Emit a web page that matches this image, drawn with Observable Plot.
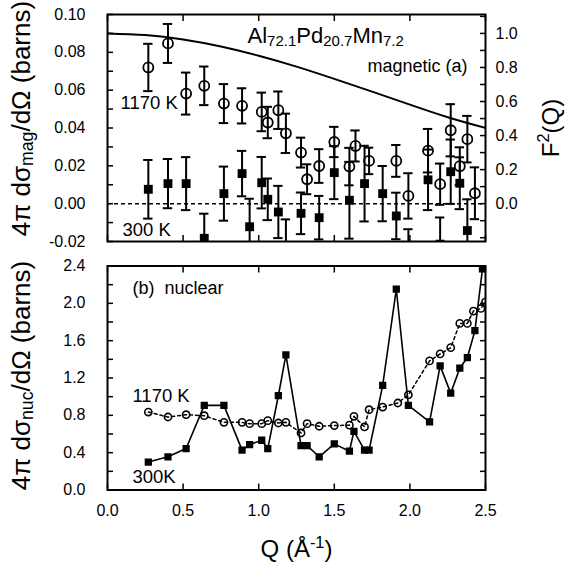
<!DOCTYPE html>
<html><head><meta charset="utf-8">
<script src="https://cdn.jsdelivr.net/npm/d3@7"></script>
<script src="https://cdn.jsdelivr.net/npm/@observablehq/plot@0.6"></script>
<style>body{margin:0;background:#fff} #chart{width:573px;height:565px;background:#fff} #chart svg{display:block}</style>
</head><body><div id="chart"></div>
<script>
// ---- Data ----
// (a) magnetic cross-section, 1170 K (open circles)
const magQ1170 = [0.27,0.40,0.52,0.64,0.77,0.89,1.02,1.06,1.13,1.18,1.28,1.32,1.40,1.50,1.60,1.64,1.73,1.91,1.99,2.12,2.20,2.27,2.33,2.38,2.43];
const magV1170 = [0.0720,0.0847,0.0582,0.0623,0.0529,0.0517,0.0485,0.0429,0.0494,0.0372,0.0270,0.0129,0.0199,0.0326,0.0196,0.0305,0.0226,0.0226,0.0041,0.0280,0.0103,0.0388,0.0198,0.0341,0.0055];
const magE1170 = [0.0125,0.0103,0.0111,0.0102,0.0103,0.0093,0.0102,0.0083,0.0099,0.0104,0.0079,0.0079,0.0089,0.0080,0.0099,0.0082,0.0070,0.0084,0.0120,0.0115,0.0109,0.0138,0.0100,0.0123,0.0137];
// (a) magnetic cross-section, 300 K (filled squares)
const magQ300 = [0.27,0.40,0.52,0.64,0.77,0.89,0.94,1.02,1.06,1.13,1.18,1.28,1.40,1.50,1.60,1.70,1.82,1.91,1.99,2.12,2.20,2.27,2.33,2.38];
const magV300 = [0.0076,0.0106,0.0106,-0.0183,0.0053,0.0159,-0.0122,0.0111,0.0023,-0.0044,-0.0250,-0.0051,-0.0074,0.0164,0.0018,0.0106,0.0053,-0.0065,-0.0270,0.0126,-0.0214,0.0169,0.0108,-0.0142];
const magE300 = [0.0155,0.0130,0.0140,0.0130,0.0143,0.0120,0.0148,0.0136,0.0110,0.0138,0.0167,0.0110,0.0115,0.0140,0.0203,0.0200,0.0146,0.0123,0.0135,0.0160,0.0141,0.0170,0.0137,0.0165];
// magnetic form factor squared F^2(Q) (solid curve, right axis)
const f2Q = [0,0.25,0.5,0.75,1.0,1.25,1.5,1.75,2.0,2.25,2.5];
const f2V = [1.0,0.990,0.964,0.923,0.869,0.805,0.733,0.658,0.582,0.508,0.445];
// (b) nuclear cross-section, 1170 K (open circles, dotted line)
const nucQ1170 = [0.27,0.40,0.52,0.64,0.77,0.89,0.94,1.02,1.06,1.13,1.18,1.28,1.32,1.40,1.50,1.60,1.63,1.70,1.73,1.82,1.92,1.99,2.13,2.20,2.27,2.33,2.38,2.42,2.47,2.50];
const nucV1170 = [0.835,0.782,0.807,0.796,0.725,0.725,0.711,0.711,0.743,0.718,0.725,0.611,0.711,0.683,0.690,0.695,0.789,0.676,0.860,0.889,0.932,1.020,1.383,1.458,1.525,1.785,1.785,1.917,1.945,2.016];
// (b) nuclear cross-section, 300 K (filled squares, solid line)
const nucQ300 = [0.27,0.40,0.52,0.64,0.77,0.89,0.94,1.02,1.06,1.13,1.18,1.28,1.32,1.40,1.50,1.60,1.63,1.70,1.73,1.82,1.91,1.99,2.13,2.20,2.27,2.33,2.38,2.43,2.48];
const nucV300 = [0.299,0.356,0.444,0.907,0.907,0.427,0.487,0.533,0.444,1.010,1.447,0.476,0.476,0.356,0.494,0.416,0.629,0.427,0.427,1.120,2.151,0.907,0.729,1.330,1.038,1.305,1.419,1.707,2.370];
// ticks
const qTicks = [0,0.5,1.0,1.5,2.0,2.5];
const magTickLabels = [-0.02,0.00,0.02,0.04,0.06,0.08,0.10];
const magMinorTicks = [-0.02,-0.01,0,0.01,0.02,0.03,0.04,0.05,0.06,0.07,0.08,0.09,0.10];
const f2TickLabels = [0.0,0.2,0.4,0.6,0.8,1.0];
const f2MinorTicks = [-0.2,-0.1,0,0.1,0.2,0.3,0.4,0.5,0.6,0.7,0.8,0.9,1.0,1.1];
const nucTickLabels = [0,0.4,0.8,1.2,1.6,2.0,2.4];
const nucMinorTicks = [0,0.2,0.4,0.6,0.8,1.0,1.2,1.4,1.6,1.8,2.0,2.2,2.4];
const F2SCALE = 0.09; // F^2 = 1 corresponds to 0.09 barns on the left axis

// ---- Build tables ----
const mag1170 = magQ1170.map((q,i)=>({q, v:magV1170[i], e:magE1170[i]}));
const mag300 = magQ300.map((q,i)=>({q, v:magV300[i], e:magE300[i]}));
const f2 = f2Q.map((q,i)=>({q, f:f2V[i]}));
const nuc1170 = nucQ1170.map((q,i)=>({q, v:nucV1170[i]}));
const nuc300 = nucQ300.map((q,i)=>({q, v:nucV300[i]}));

const FONT = '"Liberation Sans", Arial, Helvetica, sans-serif';
const CAP = 0.031;
const style = {fontFamily: FONT, fontSize: "16px", color: "black", background: "white", overflow: "visible"};

function errBars(data) {
  return [
    Plot.ruleX(data, {x:"q", y1:d=>d.v-d.e, y2:d=>d.v+d.e, stroke:"black", strokeWidth:2, clip:true}),
    Plot.ruleY(data, {y:d=>d.v+d.e, x1:d=>d.q-CAP, x2:d=>d.q+CAP, stroke:"black", strokeWidth:2, clip:true}),
    Plot.ruleY(data, {y:d=>d.v-d.e, x1:d=>d.q-CAP, x2:d=>d.q+CAP, stroke:"black", strokeWidth:2, clip:true})
  ];
}
const noText = () => "";
function frameTicks(yMinor) {
  return [
    Plot.axisY(yMinor, {anchor:"left", tickSize:6, dx:6, tickFormat:noText, label:null, strokeWidth:1.5}),
    Plot.axisX(qTicks, {anchor:"top", tickSize:6, dy:6, tickFormat:noText, label:null, strokeWidth:1.5}),
    Plot.axisX(qTicks, {anchor:"bottom", tickSize:6, dy:-6, tickFormat:noText, label:null, strokeWidth:1.5})
  ];
}

const topPlot = Plot.plot({
  width:573, height:250, marginLeft:107, marginRight:88, marginTop:14, marginBottom:9,
  style,
  x:{domain:[0,2.5], label:null},
  y:{domain:[-0.02,0.10], label:null},
  marks:[
    Plot.ruleY([0], {stroke:"black", strokeDasharray:"4,3", strokeWidth:1.5}),
    Plot.line(f2, {x:"q", y:d=>d.f*F2SCALE, curve:"natural", stroke:"black", strokeWidth:2, clip:true}),
    ...errBars(mag300),
    ...errBars(mag1170),
    Plot.dot(mag300, {x:"q", y:"v", symbol:"square", r:5, fill:"black", stroke:"none", clip:true}),
    Plot.dot(mag1170, {x:"q", y:"v", r:5, fill:"none", stroke:"black", strokeWidth:1.8, clip:true}),
    ...frameTicks(magMinorTicks),
    Plot.axisY(f2MinorTicks.map(f=>f*F2SCALE), {anchor:"right", tickSize:6, dx:-6, tickFormat:noText, label:null, strokeWidth:1.5}),
    Plot.axisY(magTickLabels, {anchor:"left", tickSize:0, tickPadding:22, tickFormat:v=>v.toFixed(2), label:null, fontSize:16}),
    Plot.axisY(f2TickLabels.map(f=>f*F2SCALE), {anchor:"right", tickSize:0, tickPadding:10, tickFormat:v=>(v/F2SCALE).toFixed(1), label:null, fontSize:16}),
    Plot.frame({stroke:"black", strokeWidth:2}),
    Plot.text(["Al_{72.1}Pd_{20.7}Mn_{7.2}"], {x:0.926, y:0.0847, text:d=>d, textAnchor:"start", lineAnchor:"bottom", fontSize:22}),
    Plot.text(["magnetic (a)"], {x:2.381, y:0.0695, text:d=>d, textAnchor:"end", lineAnchor:"bottom", fontSize:18}),
    Plot.text(["1170 K"], {x:0.086, y:0.0498, text:d=>d, textAnchor:"start", lineAnchor:"bottom", fontSize:18.5}),
    Plot.text(["300 K"], {x:0.099, y:-0.0173, text:d=>d, textAnchor:"start", lineAnchor:"bottom", fontSize:18.5}),
    Plot.text(["4π dσ_{mag}/dΩ (barns)"], {frameAnchor:"left", text:d=>d, rotate:-90, textAnchor:"middle", lineAnchor:"bottom", dx:-78, dy:-9.5, fontSize:26}),
    Plot.text(["F^{2}(Q)"], {frameAnchor:"right", text:d=>d, rotate:-90, textAnchor:"middle", lineAnchor:"bottom", dx:73, dy:0, fontSize:24})
  ]
});

const botPlot = Plot.plot({
  width:573, height:315, marginLeft:107, marginRight:88, marginTop:15.5, marginBottom:75.5,
  style,
  x:{domain:[0,2.5], label:null},
  y:{domain:[0,2.4], label:null},
  marks:[
    Plot.line(nuc1170, {x:"q", y:"v", stroke:"black", strokeWidth:1.5, strokeDasharray:"3,3", clip:true}),
    Plot.line(nuc300, {x:"q", y:"v", stroke:"black", strokeWidth:1.6, clip:true}),
    Plot.dot(nuc300, {x:"q", y:"v", symbol:"square", r:4.1, fill:"black", stroke:"none", clip:true}),
    Plot.dot(nuc1170, {x:"q", y:"v", r:3.6, fill:"none", stroke:"black", strokeWidth:1.6, clip:true}),
    ...frameTicks(nucMinorTicks),
    Plot.axisY(nucMinorTicks, {anchor:"right", tickSize:6, dx:-6, tickFormat:noText, label:null, strokeWidth:1.5}),
    Plot.axisY(nucTickLabels, {anchor:"left", tickSize:0, tickPadding:22, tickFormat:v=>v.toFixed(1), label:null, fontSize:16}),
    Plot.axisX(qTicks, {anchor:"bottom", tickSize:0, tickPadding:14.5, tickFormat:v=>v.toFixed(1), label:null, fontSize:16}),
    Plot.frame({stroke:"black", strokeWidth:2}),
    Plot.text(["(b)  nuclear"], {x:0.165, y:2.10, text:d=>d, textAnchor:"start", lineAnchor:"bottom", fontSize:18}),
    Plot.text(["1170 K"], {x:0.165, y:0.939, text:d=>d, textAnchor:"start", lineAnchor:"bottom", fontSize:18.5}),
    Plot.text(["300K"], {x:0.165, y:0.080, text:d=>d, textAnchor:"start", lineAnchor:"bottom", fontSize:18.5}),
    Plot.text(["4π dσ_{nuc}/dΩ (barns)"], {frameAnchor:"left", text:d=>d, rotate:-90, textAnchor:"middle", lineAnchor:"bottom", dx:-78, dy:-2.5, fontSize:26}),
    Plot.text(["Q (Å^{-1})"], {frameAnchor:"bottom", text:d=>d, textAnchor:"middle", lineAnchor:"bottom", dy:67, fontSize:24})
  ]
});

const chart = document.getElementById("chart");
chart.appendChild(topPlot);
chart.appendChild(botPlot);

// Rich text: _{...} subscript, ^{...} superscript
function richify(svg) {
  d3.select(svg).selectAll("text").each(function() {
    const t = this.textContent;
    if (!/[_^]\{/.test(t)) return;
    const fs = parseFloat(getComputedStyle(this).fontSize) || 16;
    const parts = t.split(/([_^]\{[^}]*\})/).filter(s => s.length);
    this.textContent = "";
    let shift = 0;
    const sel = d3.select(this);
    for (const p of parts) {
      const m = p.match(/^([_^])\{([^}]*)\}$/);
      const ts = sel.append("tspan");
      if (m) {
        const target = m[1] === "_" ? fs*0.12 : -fs*0.38;
        ts.attr("font-size", (fs*0.68).toFixed(1)).attr("dy", (target - shift).toFixed(2)).text(m[2]);
        shift = target;
      } else {
        if (shift !== 0) ts.attr("dy", (-shift).toFixed(2));
        shift = 0;
        ts.text(p);
      }
    }
  });
}
richify(topPlot);
richify(botPlot);
</script>
</body></html>
